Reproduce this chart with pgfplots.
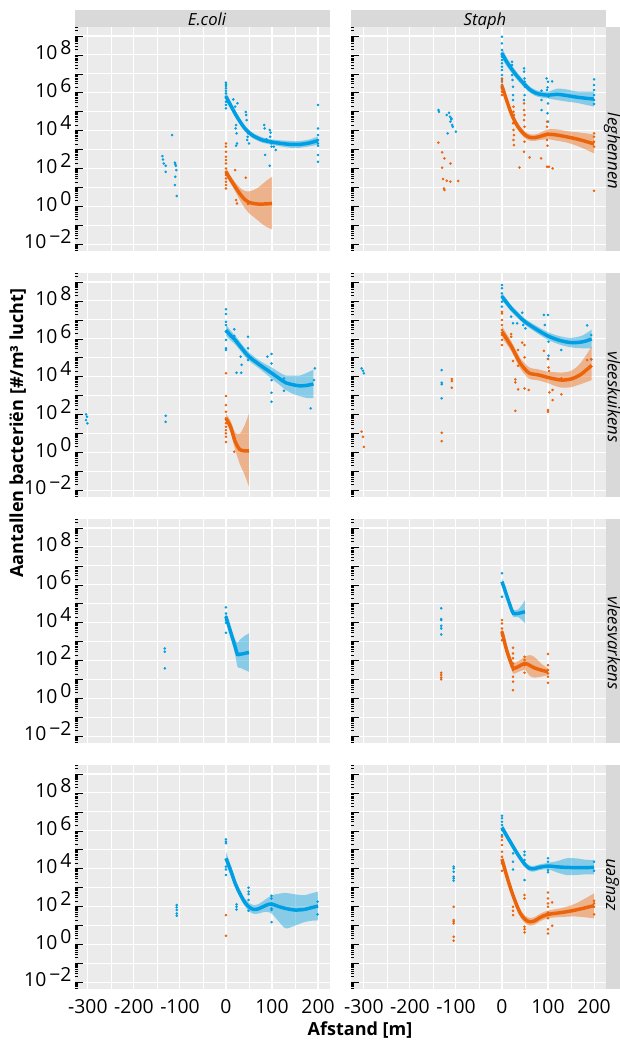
\documentclass[border=0pt]{standalone}
\usepackage{fontspec}
\setmainfont{Open Sans}
\usepackage{pgfplots}
\usepackage{pgfplotstable}
\pgfplotsset{compat=1.18}
\usepgfplotslibrary{fillbetween}

\definecolor{cblue}{RGB}{0,159,227}
\definecolor{corange}{RGB}{235,100,10}
\definecolor{panelbg}{RGB}{235,235,235}
\definecolor{stripbg}{RGB}{217,217,217}

% log-tick positions (log10 units): 2..9 times each decade
\def\mtlist{-9}
\foreach \d in {-3,...,9}{%
  \foreach \m in {0.30103,0.47712,0.60206,0.69897,0.77815,0.84510,0.90309,0.95424}{%
    \pgfmathparse{\d+\m}\xdef\mtlist{\mtlist,\pgfmathresult}}}

\newcommand\tlab[1]{10\hspace{2.2pt}\raisebox{4pt}{#1}}
\newcommand\stripfont{\fontsize{12.5}{14}\selectfont\itshape}

% ---------------- data (y = log10 of count per m3) ----------------
% leghennen, E.coli
\pgfplotstableread{
x y
-138 2.66
-137 2.48
-135 2.27
-131 2.15
-131 1.83
-117 3.77
-111 2.31
-110 2.24
-109 2.15
-108 1.92
-110 1.57
-111 1.13
-107 0.55
0 6.54
0 6.45
0 6.36
0 6.24
0 6.11
0 5.97
0 5.80
0 5.53
0 5.36
0 5.18
16 5.65
25 5.45
20 5.27
22 4.30
21 4.12
23 3.86
24 3.33
22 3.21
43 4.99
44 4.83
45 4.56
48 3.86
47 3.68
46 3.51
50 3.33
83 4.30
84 4.12
95 4.04
97 3.90
88 3.55
96 3.68
98 3.33
99 3.16
85 2.72
95 2.15
104 3.16
108 2.98
200 5.36
200 4.12
200 3.77
200 3.51
200 3.33
200 3.20
200 2.72
200 2.36
}\pAb
\pgfplotstableread{
x y
0 3.33
0 3.16
0 2.89
0 2.63
0 2.45
0 2.27
0 2.01
0 1.83
0 1.66
0 1.48
0 1.31
0 1.13
0 0.95
20 1.92
43 1.52
22 0.34
24 0.16
48 0.13
}\pAo
\pgfplotstableread{
x y lo hi
0 5.80 5.55 6.05
10 5.35 5.15 5.55
20 4.90 4.72 5.08
30 4.50 4.34 4.66
40 4.15 4.00 4.30
50 3.90 3.76 4.04
60 3.72 3.58 3.86
70 3.60 3.46 3.74
80 3.50 3.36 3.64
100 3.40 3.26 3.54
120 3.33 3.17 3.49
140 3.28 3.10 3.46
160 3.28 3.10 3.46
180 3.35 3.17 3.53
200 3.48 3.26 3.70
}\lAb
\pgfplotstableread{
x y lo hi
0 1.83 1.60 2.06
10 1.42 1.22 1.62
20 1.04 0.80 1.28
30 0.68 0.35 1.00
40 0.39 -0.05 0.83
50 0.22 -0.35 0.80
60 0.16 -0.55 0.87
70 0.13 -0.75 1.00
80 0.13 -0.95 1.20
90 0.14 -1.10 1.40
100 0.16 -1.21 1.57
}\lAo
% leghennen, Staph
\pgfplotstableread{
x y
-138 5.09
-137 5.00
-120 4.83
-115 4.95
-113 4.74
-110 4.65
-110 4.60
-112 4.48
-108 4.30
-107 4.21
-100 3.95
-118 3.86
0 8.96
0 8.61
0 8.26
0 8.08
0 7.91
0 7.73
0 7.56
0 7.38
0 7.20
0 6.94
0 6.68
0 6.41
22 7.64
22 7.47
23 7.20
22 6.94
23 6.68
24 6.32
24 5.88
24 5.62
48 7.29
48 7.12
49 6.76
49 6.59
50 6.32
49 5.88
48 5.62
86 6.11
86 5.62
86 5.09
97 6.76
100 6.59
99 6.29
98 6.15
101 5.80
100 5.44
99 4.92
100 4.48
109 6.60
200 6.71
200 6.41
200 6.15
200 5.88
200 5.62
200 5.41
}\pBb
\pgfplotstableread{
x y
-138 3.37
-130 2.86
-125 2.54
-112 2.27
-130 2.05
-128 1.45
-120 1.36
-112 1.31
-125 0.87
-126 0.95
-95 1.35
0 6.76
0 6.59
0 6.41
0 6.24
0 6.06
0 5.88
25 5.27
25 5.00
26 4.83
25 4.65
24 4.39
25 4.04
26 3.77
25 3.51
26 3.24
38 2.06
48 5.44
48 5.09
49 4.83
48 4.56
49 4.21
48 3.86
49 3.42
48 2.89
60 2.59
85 2.54
98 4.48
98 4.21
99 3.86
98 3.51
99 3.21
98 2.10
102 2.10
110 2.01
200 3.86
200 3.68
200 3.42
200 3.16
200 0.83
}\pBo
\pgfplotstableread{
x y lo hi
0 8.08 7.80 8.36
10 7.65 7.42 7.88
20 7.29 7.08 7.50
30 6.97 6.78 7.16
40 6.68 6.50 6.86
50 6.42 6.25 6.59
60 6.18 6.02 6.34
70 6.03 5.87 6.19
80 5.94 5.78 6.10
100 5.88 5.70 6.06
120 5.92 5.62 6.22
140 5.86 5.54 6.18
160 5.78 5.48 6.08
180 5.72 5.38 6.06
200 5.67 5.27 6.07
}\lBb
\pgfplotstableread{
x y lo hi
0 6.36 6.10 6.62
10 5.62 5.40 5.84
20 4.92 4.72 5.12
30 4.40 4.20 4.60
40 4.04 3.86 4.22
50 3.78 3.60 3.96
60 3.65 3.48 3.82
70 3.63 3.46 3.80
80 3.68 3.50 3.86
100 3.81 3.55 4.07
120 3.77 3.47 4.07
140 3.68 3.38 3.98
160 3.58 3.23 3.93
180 3.45 3.03 3.87
200 3.30 2.80 3.80
}\lBo
% vleeskuikens, E.coli
\pgfplotstableread{
x y
-304 2.01
-302 1.89
-304 1.71
-301 1.54
-131 1.94
-131 1.62
0 7.56
0 7.31
0 6.90
0 6.73
0 6.38
0 5.94
0 5.50
0 5.41
18 6.50
18 6.15
23 4.21
32 5.06
33 4.21
34 4.63
48 6.11
48 5.50
48 4.88
90 5.06
99 5.20
99 4.70
99 3.82
99 3.15
99 2.68
126 3.91
126 3.26
184 2.33
191 3.82
193 4.44
}\pCb
\pgfplotstableread{
x y
0 4.18
0 2.98
0 2.50
0 2.15
0 1.80
0 1.54
0 1.36
0 1.18
0 1.01
0 0.83
0 0.55
18 0.78
18 0.04
}\pCo
\pgfplotstableread{
x y lo hi
0 6.46 6.16 6.76
10 6.18 5.92 6.44
20 5.94 5.70 6.18
35 5.48 5.26 5.70
50 5.06 4.84 5.28
75 4.60 4.38 4.82
100 4.18 3.88 4.48
115 3.92 3.60 4.24
130 3.68 3.30 4.06
145 3.58 3.10 4.06
160 3.52 2.98 4.06
175 3.54 2.88 4.20
190 3.62 2.87 4.37
}\lCb
\pgfplotstableread{
x y lo hi
0 1.80 1.55 2.05
10 1.36 1.05 1.67
20 0.57 0.15 1.05
30 0.16 -0.60 1.00
40 0.09 -1.15 1.40
50 0.09 -1.81 2.06
}\lCo
% vleeskuikens, Staph
\pgfplotstableread{
x y
-305 4.44
-302 4.32
-300 4.18
-131 4.35
-131 3.68
-131 3.60
-131 2.86
0 8.84
0 8.67
0 8.40
0 8.23
0 7.96
0 7.70
20 7.17
24 6.82
33 6.82
44 7.38
46 6.73
51 6.55
91 7.26
93 6.73
100 7.26
101 5.85
101 5.11
100 4.93
129 5.41
185 6.71
194 6.20
194 4.92
}\pDb
\pgfplotstableread{
x y
-305 1.10
-302 0.83
-300 0.30
-131 1.04
-131 0.60
-109 3.88
-109 3.77
-109 3.42
0 7.43
0 7.34
0 6.99
0 6.73
0 6.46
0 6.20
0 5.94
0 5.67
20 6.25
20 6.11
24 4.83
29 3.86
29 3.70
35 5.41
35 4.58
35 3.33
29 2.20
44 5.80
49 5.67
49 5.02
49 3.38
58 3.30
91 5.37
100 4.93
101 4.49
102 4.30
103 3.17
100 2.24
100 2.15
110 3.30
110 2.77
129 3.91
129 3.07
185 4.88
194 4.92
}\pDo
\pgfplotstableread{
x y lo hi
0 8.23 8.03 8.43
10 7.92 7.74 8.10
20 7.61 7.44 7.78
35 7.24 7.08 7.40
50 6.90 6.74 7.06
75 6.50 6.32 6.68
100 6.15 5.95 6.35
125 5.92 5.70 6.14
150 5.80 5.55 6.05
175 5.84 5.50 6.18
195 5.99 5.49 6.49
}\lDb
\pgfplotstableread{
x y lo hi
0 6.38 6.08 6.68
10 6.00 5.72 6.28
20 5.62 5.36 5.88
30 5.15 4.88 5.42
40 4.70 4.42 4.98
50 4.40 4.10 4.70
60 4.18 3.88 4.48
80 4.09 3.80 4.38
100 3.96 3.66 4.26
115 3.88 3.52 4.24
130 3.82 3.42 4.22
150 3.88 3.45 4.31
170 4.10 3.60 4.70
195 4.60 3.82 5.60
}\lDo
% vleesvarkens, E.coli
\pgfplotstableread{
x y
-133 2.64
-133 2.47
-133 1.59
0 4.81
0 4.49
0 4.32
0 4.14
0 4.00
0 3.47
}\pEb
\pgfplotstableread{
x y lo hi
0 4.32 4.07 4.57
5 3.92 3.68 4.16
10 3.52 3.25 3.79
15 3.12 2.80 3.44
20 2.73 2.30 3.11
25 2.33 1.68 2.95
30 2.34 1.62 3.10
35 2.35 1.58 3.20
40 2.38 1.52 3.30
50 2.43 1.41 3.44
}\lEb
% vleesvarkens, Staph
\pgfplotstableread{
x y
-132 4.76
-132 4.19
-132 4.14
-132 3.84
-132 3.70
-132 3.38
0 6.61
0 5.37
}\pFb
\pgfplotstableread{
x y
-132 1.36
-132 1.24
-132 1.11
-132 1.01
0 4.14
0 3.96
0 3.70
0 3.52
0 3.35
0 3.08
24 2.68
24 2.38
24 2.12
24 1.85
24 1.50
24 1.15
24 0.89
24 0.44
49 2.20
49 2.03
49 1.76
49 1.36
100 2.35
100 1.76
100 1.50
100 1.32
100 1.15
100 0.83
}\pFo
\pgfplotstableread{
x y lo hi
0 6.17 5.97 6.37
5 5.82 5.63 6.01
10 5.46 5.27 5.65
15 5.10 4.90 5.30
20 4.75 4.55 4.95
25 4.49 4.30 4.68
35 4.49 4.30 4.70
45 4.55 4.10 5.00
50 4.58 3.96 5.20
}\lFb
\pgfplotstableread{
x y lo hi
0 3.52 3.27 3.77
5 3.04 2.80 3.28
10 2.56 2.30 2.82
20 1.85 1.58 2.12
25 1.59 1.30 1.88
35 1.68 1.40 1.96
50 1.85 1.50 2.20
60 1.75 1.20 2.29
70 1.62 1.10 2.20
85 1.50 1.15 1.85
100 1.41 1.23 1.59
}\lFo
% zeugen, E.coli
\pgfplotstableread{
x y
-107 2.08
-107 1.96
-107 1.82
-107 1.64
-107 1.52
0 5.55
0 5.43
0 5.34
0 4.11
0 3.96
0 3.67
23 2.12
23 1.99
23 1.85
49 3.00
49 2.79
49 2.66
49 2.35
49 1.78
99 2.57
99 2.43
99 2.17
99 1.90
99 1.82
99 1.18
199 2.26
199 1.59
}\pGb
\pgfplotstableread{
x y
0 1.55
0 0.46
}\pGo
\pgfplotstableread{
x y lo hi
0 4.55 4.20 4.90
10 3.93 3.65 4.21
20 3.23 3.00 3.46
30 2.70 2.50 2.90
40 2.26 2.06 2.46
50 1.98 1.76 2.20
60 1.85 1.62 2.08
70 1.88 1.63 2.13
80 1.99 1.70 2.28
90 2.10 1.72 2.45
100 2.13 1.62 2.60
115 2.00 1.20 2.68
130 1.90 0.85 2.72
150 1.82 1.00 2.65
170 1.85 1.18 2.60
185 1.94 1.25 2.70
200 2.03 1.27 2.79
}\lGb
% zeugen, Staph
\pgfplotstableread{
x y
-105 4.11
-105 4.02
-105 3.84
-105 3.58
-105 3.49
-105 3.37
0 6.80
0 6.66
0 6.48
0 6.31
0 6.04
0 5.78
24 4.81
24 4.37
24 3.96
49 4.90
49 4.72
49 4.46
49 3.40
100 4.55
100 4.37
100 4.14
100 3.93
100 3.81
200 4.37
200 3.89
}\pHb
\pgfplotstableread{
x y
-105 1.99
-105 1.29
-105 1.20
-105 1.11
-105 0.41
-105 0.20
0 5.69
0 5.51
0 5.25
0 4.90
0 4.63
0 4.28
0 3.89
24 1.99
24 1.78
24 1.55
49 2.61
49 2.43
49 0.94
49 0.81
49 0.64
100 2.74
100 2.43
100 2.17
100 1.99
100 1.69
100 1.38
100 0.80
100 0.58
109 2.22
109 1.64
109 0.99
200 2.31
200 2.17
200 1.99
200 1.59
}\pHo
\pgfplotstableread{
x y lo hi
0 6.18 5.98 6.38
10 5.75 5.57 5.93
20 5.34 5.17 5.51
30 4.93 4.77 5.09
40 4.55 4.40 4.70
50 4.22 4.07 4.37
60 4.02 3.87 4.17
70 4.00 3.85 4.15
80 4.07 3.92 4.22
100 4.14 3.97 4.31
120 4.10 3.80 4.40
140 4.07 3.67 4.55
160 4.06 3.67 4.55
180 4.06 3.70 4.48
200 4.07 3.70 4.45
}\lHb
\pgfplotstableread{
x y lo hi
0 4.51 4.21 4.81
10 3.65 3.40 3.90
20 2.87 2.65 3.09
30 2.20 1.98 2.42
40 1.64 1.44 1.84
50 1.33 1.13 1.53
60 1.20 1.00 1.40
70 1.24 1.04 1.44
85 1.45 1.25 1.65
100 1.59 1.39 1.79
130 1.69 1.45 1.93
160 1.82 1.48 2.16
200 2.05 1.38 2.70
}\lHo

% ---------------- styles ----------------
\pgfplotsset{
  panel/.style={
    width=191.25pt, height=168pt, scale only axis, anchor=north west,
    xmin=-328, xmax=226, ymin=-2.35, ymax=9.475,
    axis background/.style={fill=panelbg},
    axis line style={draw=none},
    xmajorgrids, xminorgrids, ymajorgrids,
    major grid style={white, line width=0.8pt},
    minor grid style={white, line width=0.4pt},
    xtick={-300,-200,...,200}, minor xtick={-250,-150,...,150},
    xtick style={draw=none},
    ytick={-2,...,9},
    minor ytick/.expanded={\mtlist},
    ytick style={black, line width=0.5pt},
    tick align=inside, ytick pos=left, xtick pos=bottom,
    major tick length=6pt, minor tick length=2.6pt,
    tick label style={font=\fontsize{14.5}{17}\selectfont, text=black},
    yticklabel style={anchor=base east, inner sep=0pt, xshift=-2.5pt, yshift=-3.4pt},
    xticklabel style={anchor=north, inner sep=0pt, yshift=-7.5pt},
  },
  leftcol/.style={yticklabels={\tlab{−2},,\tlab{0},,\tlab{2},,\tlab{4},,\tlab{6},,\tlab{8},}},
  rightcol/.style={yticklabels={}},
  bottomrow/.style={xticklabels={-300,-200,-100,0,100,200}},
  innerrow/.style={xticklabels={}},
  pb/.style={only marks, mark=*, mark size=0.75pt, color=cblue, forget plot},
  po/.style={only marks, mark=*, mark size=0.75pt, color=corange, forget plot},
}

\newcommand\ribbon[3]{%
  \addplot[name path=#3u, draw=none, smooth, forget plot] table[x=x,y=hi]{#1};
  \addplot[name path=#3l, draw=none, smooth, forget plot] table[x=x,y=lo]{#1};
  \addplot[fill=#2, fill opacity=0.42, draw=none, forget plot] fill between[of=#3u and #3l];
  \addplot[#2, line width=2.6pt, smooth, forget plot] table[x=x,y=y]{#1};
}

\begin{document}
\begin{tikzpicture}
% strips
\fill[stripbg] (0pt,0pt) rectangle (191.25pt,12.75pt);
\fill[stripbg] (207pt,0pt) rectangle (398.25pt,12.75pt);
\fill[stripbg] (398.25pt,0pt) rectangle (425pt,-168pt);
\fill[stripbg] (398.25pt,-184.5pt) rectangle (425pt,-352.5pt);
\fill[stripbg] (398.25pt,-369pt) rectangle (425pt,-537pt);
\fill[stripbg] (398.25pt,-553.5pt) rectangle (425pt,-721.5pt);
\node[anchor=base, inner sep=0pt, font=\stripfont] at (99pt,0.9pt) {E.coli};
\node[anchor=base, inner sep=0pt, font=\stripfont] at (307.5pt,0.9pt) {Staph};
\node[anchor=base, inner sep=0pt, rotate=-90, font=\stripfont] at (399.6pt,-93pt) {leghennen};
\node[anchor=base, inner sep=0pt, rotate=-90, font=\stripfont] at (399.6pt,-277.5pt) {vleeskuikens};
\node[anchor=base, inner sep=0pt, rotate=-90, font=\stripfont] at (399.6pt,-462pt) {vleesvarkens};
\node[anchor=base, inner sep=0pt, rotate=90, font=\stripfont] at (405pt,-643.5pt) {zeugen};

% row 1
\begin{axis}[panel, leftcol, innerrow, at={(0pt,0pt)}]
\addplot[pb] table{\pAb};
\addplot[po] table{\pAo};
\ribbon{\lAb}{cblue}{ab}
\ribbon{\lAo}{corange}{ao}
\end{axis}
\begin{axis}[panel, rightcol, innerrow, at={(207pt,0pt)}]
\addplot[pb] table{\pBb};
\addplot[po] table{\pBo};
\ribbon{\lBb}{cblue}{bb}
\ribbon{\lBo}{corange}{bo}
\end{axis}
% row 2
\begin{axis}[panel, leftcol, innerrow, at={(0pt,-184.5pt)}]
\addplot[pb] table{\pCb};
\addplot[po] table{\pCo};
\ribbon{\lCb}{cblue}{cb}
\ribbon{\lCo}{corange}{co}
\end{axis}
\begin{axis}[panel, rightcol, innerrow, at={(207pt,-184.5pt)}]
\addplot[pb] table{\pDb};
\addplot[po] table{\pDo};
\ribbon{\lDb}{cblue}{db}
\ribbon{\lDo}{corange}{do}
\end{axis}
% row 3
\begin{axis}[panel, leftcol, innerrow, at={(0pt,-369pt)}]
\addplot[pb] table{\pEb};
\ribbon{\lEb}{cblue}{eb}
\end{axis}
\begin{axis}[panel, rightcol, innerrow, at={(207pt,-369pt)}]
\addplot[pb] table{\pFb};
\addplot[po] table{\pFo};
\ribbon{\lFb}{cblue}{fb}
\ribbon{\lFo}{corange}{fo}
\end{axis}
% row 4
\begin{axis}[panel, leftcol, bottomrow, at={(0pt,-553.5pt)}]
\addplot[pb] table{\pGb};
\addplot[po] table{\pGo};
\ribbon{\lGb}{cblue}{gb}
\end{axis}
\begin{axis}[panel, rightcol, bottomrow, at={(207pt,-553.5pt)}]
\addplot[pb] table{\pHb};
\addplot[po] table{\pHo};
\ribbon{\lHb}{cblue}{hb}
\ribbon{\lHo}{corange}{ho}
\end{axis}

\node[rotate=90, font=\bfseries\fontsize{13.5}{16}\selectfont] at (-43pt,-304.5pt) {Aantallen bacteriën [\#/m³ lucht]};
\node[font=\bfseries\fontsize{13.5}{16}\selectfont] at (213.75pt,-752.25pt) {Afstand [m]};

\pgfresetboundingbox
\useasboundingbox (-56.25pt,20.25pt) rectangle (408.75pt,-759.75pt);
\end{tikzpicture}
\end{document}
